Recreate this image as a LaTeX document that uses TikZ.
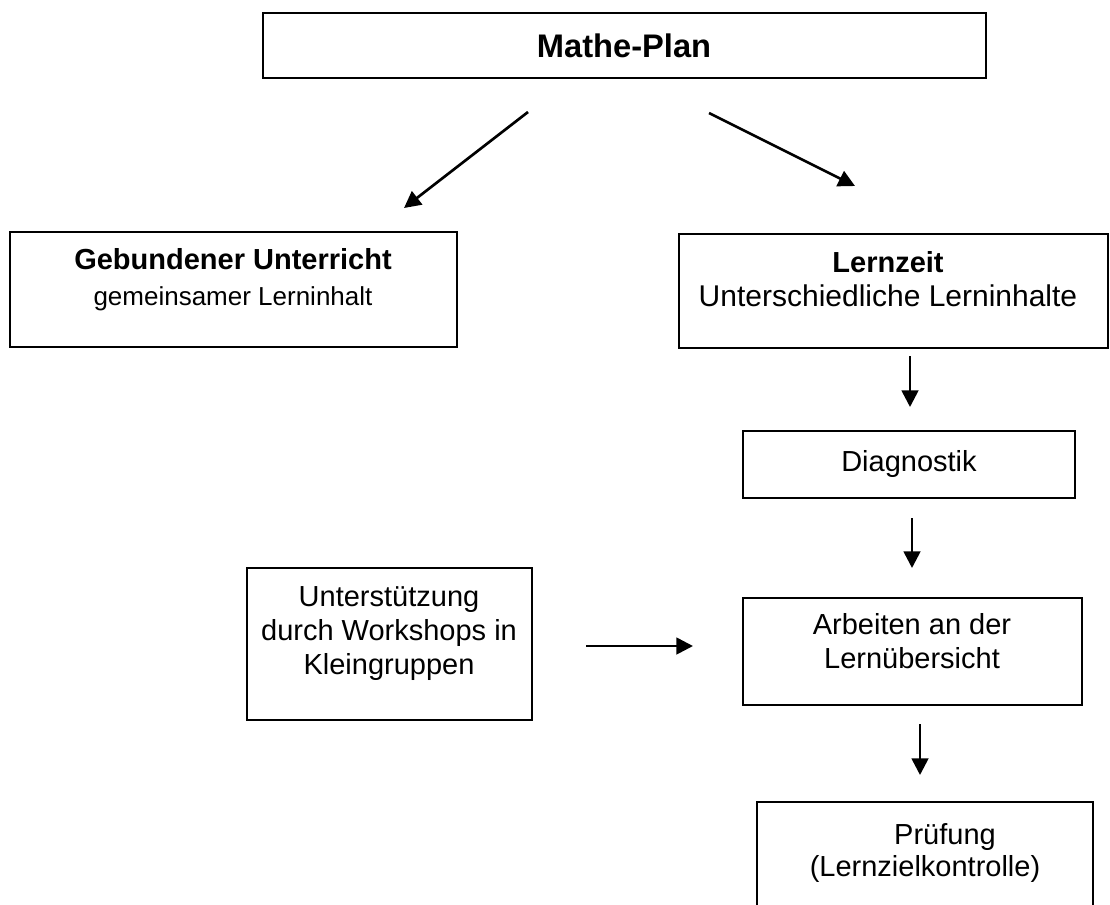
\documentclass[tikz,border=0pt]{standalone}
\usepackage{fontspec}
\setmainfont{Liberation Sans}
\usetikzlibrary{arrows.meta}
\newlength{\pxu}
\setlength{\pxu}{0.75pt}

\begin{document}
\begin{tikzpicture}[x=0.75pt, y=-0.75pt,
  box/.style={draw=black, line width=1.1pt, inner sep=0pt},
  txt/.style={align=center, inner sep=0pt, font=\fontsize{21.75}{25.5}\selectfont},
  pfeil/.style={line width=2pt, -{Triangle[length=12.5pt,width=12.5pt]}}]

\useasboundingbox (0,0) rectangle (1110,904);

\node[box, minimum width=723\pxu, minimum height=65\pxu] (plan) at (624.5,45.5) {};
\node[txt, font=\fontsize{24.5}{28}\selectfont\bfseries] (plantext) at (624,46) {Mathe-Plan};

\node[box, minimum width=447\pxu, minimum height=115\pxu] (gebunden) at (233.5,289.5) {};
\node[txt] (gebundentext) at (233,280) {\textbf{Gebundener Unterricht}\\[1.5pt]{\fontsize{19.5}{25.5}\selectfont gemeinsamer Lerninhalt}};

\node[box, minimum width=429\pxu, minimum height=114\pxu] (lernzeit) at (893.5,291) {};
\node[txt] (lernzeittext) at (888,279) {\textbf{Lernzeit}\\{\fontsize{22.5}{26}\selectfont Unterschiedliche Lerninhalte}};

\node[box, minimum width=332\pxu, minimum height=67\pxu] (diagnostik) at (909,464.5) {};
\node[txt] (diagnostiktext) at (909,464) {Diagnostik};

\node[box, minimum width=285\pxu, minimum height=152\pxu] (workshop) at (389.5,644) {};
\node[txt] (workshoptext) at (389,634) {Unterstützung\\durch Workshops in\\Kleingruppen};

\node[box, minimum width=339\pxu, minimum height=107\pxu] (arbeiten) at (912.5,651.5) {};
\node[txt] (arbeitentext) at (912,641) {Arbeiten an der\\Lernübersicht};

\node[box, minimum width=336\pxu, minimum height=110\pxu] (pruefung) at (925,857) {};
\node[txt] (pruefungtext) at (925,853) {\hspace*{30pt}Prüfung\\[-2pt](Lernzielkontrolle)};

\coordinate (a1s) at (528,112);
\coordinate (a1e) at (404,208);
\coordinate (a2s) at (709,113);
\coordinate (a2e) at (855,186);
\coordinate (a3s) at (910,356);
\coordinate (a3e) at (910,407);
\coordinate (a4s) at (912,518);
\coordinate (a4e) at (912,568);
\coordinate (a5s) at (586,646);
\coordinate (a5e) at (693,646);
\coordinate (a6s) at (920,724);
\coordinate (a6e) at (920,775);

\draw[pfeil] (a1s) -- (a1e);
\draw[pfeil] (a2s) -- (a2e);
\draw[pfeil] (a3s) -- (a3e);
\draw[pfeil] (a4s) -- (a4e);
\draw[pfeil] (a5s) -- (a5e);
\draw[pfeil] (a6s) -- (a6e);

\end{tikzpicture}
\end{document}
